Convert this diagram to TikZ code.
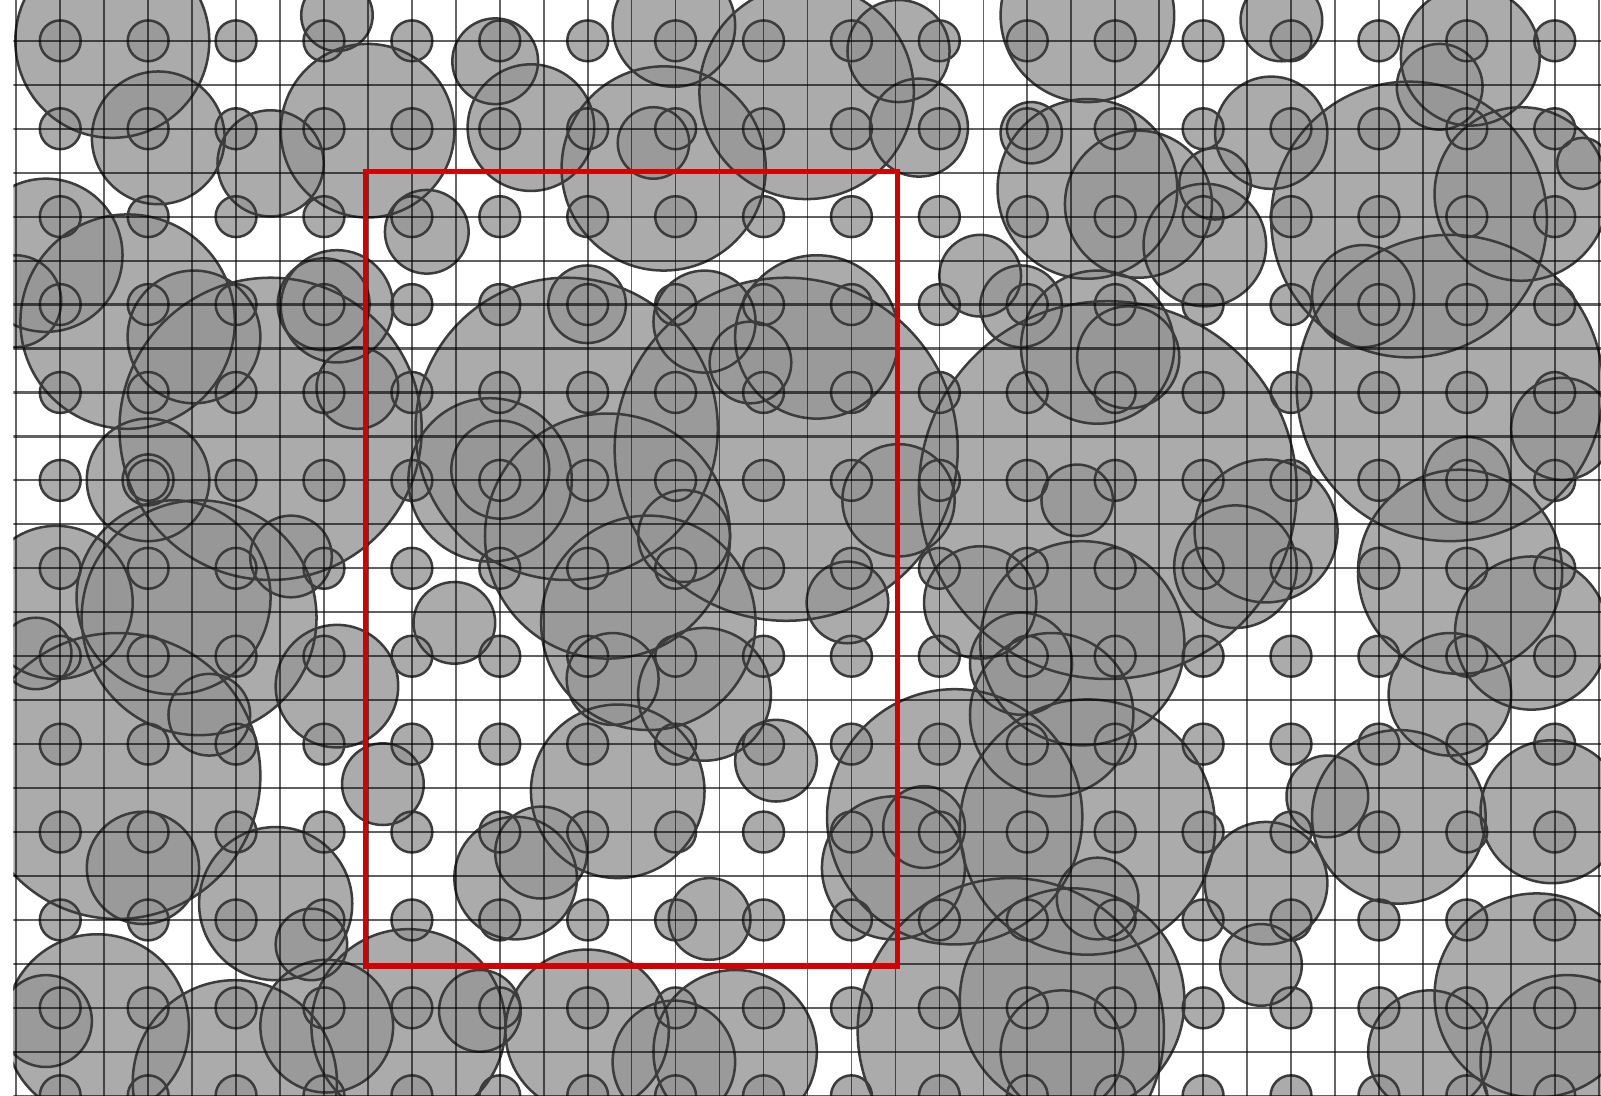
\documentclass[tikz,border=0pt]{standalone}
\usepackage{xcolor}
\definecolor{blobfill}{HTML}{969696}
\definecolor{blobline}{HTML}{3C3C3C}
\definecolor{boxred}{HTML}{D40000}
\usetikzlibrary{positioning}
% big discs: x/y/radius in screen units
\def\bloblist{110/40/95, 155/135/65, 265/160/52, 360/128/85, 330/15/35,
  485/60/42, 520/125/62, 660/25/60, 650/165/100, 640/140/35, 790/90/105,
  880/50/50, 900/125/48, 1065/15/85, 1065/185/88, 1115/200/72, 1010/130/30,
  1255/20/40, 1245/130/55, 1190/180/35, 1440/55/68, 1410/85/42, 1380/215/135,
  1490/190/85, 1550/160/25,
  45/250/75, 15/295/45, 125/315/105, 190/330/65, 265/420/148, 330/300/55,
  317/298/45, 350/380/40, 418/227/41, 145/470/60, 145/470/25, 170/585/95,
  195/605/115, 55/590/75, 35/640/35, 285/545/40, 330/672/60, 115/760/140,
  140/850/55, 205/700/40, 270/885/75, 305/925/35, 375/768/40, 95/1005/90,
  45/1000/45, 320/1005/65, 400/1005/95, 470/990/40, 230/1060/100,
  480/470/80, 555/420/148, 595/525/120, 635/610/105, 490/460/48, 670/525/45,
  770/440/168, 800/330/80, 690/315/50, 735/355/40, 575/298/38, 880/490/55,
  830/590/40, 445/610/40, 600/665/45, 690/680/65, 605/775/85, 760/745/40,
  505/860/60, 530/835/45, 695/900/40, 875/850/70, 575/1010/80, 660/1040/60,
  720/1030/80,
  1085/480/185, 1055/490/35, 1105/350/50, 1075/340/75, 1060/630/100,
  1210/555/60, 1240/520/70, 1420/380/150, 1430/560/100, 1500/620/75,
  1420/680/60, 1520/795/70, 1370/800/85, 1300/780/40, 1240/865/60,
  1235/945/40, 1065/810/125, 1030/700/80, 1000/650/50, 935/800/125,
  905/810/40, 960/590/55, 1075/880/40, 1050/980/110, 990/1010/150,
  1040/1030/60, 1400/1030/60, 1505/975/100, 1535/1040/85, 1335/290/50,
  960/270/40, 1000/300/40, 1180/240/60, 1530/420/50, 1437/470/42}

\begin{document}
\begin{tikzpicture}[x=0.01cm,y=0.01cm,yscale=-1,
  disc/.style={fill=blobfill,fill opacity=0.8},
  ring/.style={draw=blobline,line width=0.7pt},
  gridv/.style={draw=black,draw opacity=0.6,line width=0.45pt},
  gridh/.style={draw=black,draw opacity=0.62,line width=0.6pt},
  redbox/.style={draw=boxred,line width=1.5pt}]
\useasboundingbox (0,0) rectangle (1568,1073);
\begin{scope}
\clip (13,0) rectangle (1568,1073);
% fills first
\foreach \cx/\cy/\r in \bloblist
  \fill[disc] (\cx,\cy) circle[radius=\r];
\foreach \i in {0,...,17}
  \foreach \j in {0,...,12}
    \fill[disc] (59+86.1*\i,40+86.1*\j) circle[radius=20];
% then the outlines
\foreach \cx/\cy/\r in \bloblist
  \draw[ring] (\cx,\cy) circle[radius=\r];
\foreach \i in {0,...,17}
  \foreach \j in {0,...,12}
    \draw[ring] (59+86.1*\i,40+86.1*\j) circle[radius=20];
% grid on top
\foreach \k in {0,...,36}
  \draw[gridv] (15.95+43.05*\k,0) -- (15.95+43.05*\k,1073);
\foreach \k in {0,...,24}
  \draw[gridh] (13,40+43.05*\k) -- (1568,40+43.05*\k);
\end{scope}
\draw[redbox] (358,168) rectangle (879,946);
\end{tikzpicture}
\end{document}
